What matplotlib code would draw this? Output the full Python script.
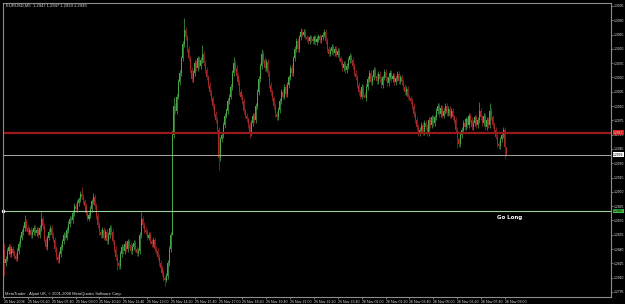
import matplotlib
matplotlib.use("Agg")
import matplotlib.pyplot as plt
import matplotlib.transforms as mtransforms
from matplotlib import font_manager

# ---------------- data ----------------
title_text = "EURUSD,M5  1.2947 1.2947 1.2939 1.2939"
copyright_text = "MetaTrader - Alpari UK, \u00a9 2001-2008 MetaQuotes Software Corp."
base_price = 1.2800
pip = 0.0001
first_open_pips = 40

# closes in pips above 1.2800, one per 5-minute bar
close_pips = [
    25, 30,
    38, 42, 35, 40, 36,
    33, 30, 38,
    45, 52, 58, 62, 68,
    62, 58, 60, 55, 58, 62, 57, 60, 55, 62, 72, 64,
    50, 42,
    52, 58, 62, 55, 50,
    40, 32, 28, 35,
    42, 48, 55, 52, 60, 66, 72, 70, 78,
    85, 82, 88, 92,
    98, 95, 90, 85,
    78, 72, 76, 82,
    90, 95,
    85, 75, 65, 58, 55,
    60, 52, 58, 48, 55, 62, 58,
    48, 40, 32, 25, 22,
    35, 42, 38, 45, 40, 48, 44, 38, 42, 46, 40, 36, 38,
    55, 72,
    65, 60, 58, 52, 55, 48, 45, 50, 40, 38,
    32, 25, 20, 15, 10, 8, 12,
    25, 40, 55,
    160,
    190, 185, 200, 215, 225, 240, 255,
    270,
    262, 250, 240, 228, 218,
    225, 235, 230, 240, 232, 238,
    245,
    235, 228, 220, 212, 205, 198, 190, 182, 175, 165,
    135, 155,
    160, 170, 180, 185, 195, 200, 210,
    225, 235,
    230, 222, 215, 205, 200, 195, 185, 180, 176,
    170, 162,
    172, 180, 175,
    190, 205, 218, 232, 245,
    238, 230, 236,
    225, 212, 205, 198,
    190, 182, 178, 186,
    195, 205, 200, 210, 203, 212,
    220, 230, 225, 240, 250, 258, 250, 262, 268,
    265, 268, 262, 260, 258, 262, 260,
    258, 262, 257, 260, 263, 259, 262, 265,
    268,
    258, 250, 245, 248,
    252, 246, 250, 244, 248,
    240, 236, 230, 234, 228, 232, 238,
    242, 238,
    232, 225, 220, 212, 205, 200, 210, 202, 198,
    210, 218, 225, 215, 220, 228, 222, 216, 224, 218, 212, 220,
    226, 219, 214, 220, 225, 218, 222, 215, 219, 224, 216, 220,
    215, 210, 205, 208, 200, 198,
    195, 190, 182, 175, 168, 162,
    165, 170, 163, 172, 168, 162, 175, 170, 178, 172,
    178, 185, 190, 182, 188, 180, 185, 190, 183, 187, 180, 185, 178, 175,
    165, 155, 150, 160,
    165, 172, 168, 176, 170, 180, 175, 168, 172, 178, 170, 175,
    185,
    178, 172, 180, 168, 175, 170,
    185,
    178, 170, 165, 158, 150, 148, 155,
    160, 165,
    147, 139,
]

# notable bar extremes (pips above 1.2800)
extreme_high = {0: 46, 14: 76, 25: 79, 52: 105, 60: 99, 92: 79, 113: 165,
                114: 200, 121: 282, 133: 254, 154: 241, 173: 250, 199: 272,
                215: 271, 232: 246, 319: 194, 326: 193, 337: 147}
extreme_low = {0: 12, 28: 40, 36: 25, 76: 18, 108: 1, 113: 55, 144: 123,
               165: 157, 242: 200, 304: 146, 336: 135, 337: 139}
normal_wick_pips = 3

ytick_labels = ["1.3095", "1.3080", "1.3065", "1.3050", "1.3035", "1.3020",
                "1.3005", "1.2990", "1.2975", "1.2960", "1.2945", "1.2930",
                "1.2915", "1.2900", "1.2885", "1.2870", "1.2855", "1.2840",
                "1.2825", "1.2810", "1.2795"]
time_labels = ["25 Nov 2008", "25 Nov 06:20", "25 Nov 07:40", "25 Nov 09:00",
               "25 Nov 10:20", "25 Nov 11:40", "25 Nov 13:00", "25 Nov 14:20",
               "25 Nov 15:40", "25 Nov 17:00", "25 Nov 18:20", "25 Nov 19:40",
               "25 Nov 21:00", "25 Nov 22:20", "25 Nov 23:40", "26 Nov 01:00",
               "26 Nov 02:20", "26 Nov 03:40", "26 Nov 05:00", "26 Nov 06:20",
               "26 Nov 07:40", "26 Nov 09:00"]
bars_per_time_label = 16

red_level = 1.2962
bid_level = 1.2939
green_level = 1.2880
signal_text = "Go Long"
signal_bar = 339
signal_price = 1.28730

# ---------------- font ----------------
available = {f.name for f in font_manager.fontManager.ttflist}
if "Liberation Sans Narrow" in available:
    small_family = ["Liberation Sans Narrow", "DejaVu Sans"]
elif "Liberation Sans" in available:
    small_family = ["Liberation Sans", "DejaVu Sans"]
else:
    small_family = ["DejaVu Sans"]
plt.rcParams["font.family"] = ["DejaVu Sans"]

# ---------------- build OHLC ----------------
opens, highs, lows, closes = [], [], [], []
prev = first_open_pips
for i, c in enumerate(close_pips):
    o = prev
    h = extreme_high.get(i, max(o, c) + normal_wick_pips)
    l = extreme_low.get(i, min(o, c) - normal_wick_pips)
    opens.append(base_price + o * pip)
    closes.append(base_price + c * pip)
    highs.append(base_price + h * pip)
    lows.append(base_price + l * pip)
    prev = c

# ---------------- figure ----------------
W, H = 625, 304
fig = plt.figure(figsize=(W / 100, H / 100), dpi=100, facecolor="black")
ax = fig.add_axes([3 / W, 7 / H, 608 / W, 294 / H])
ax.set_facecolor("black")
ax.set_xlim(-0.7, 407.3)
ax.set_ylim(1.27897, 1.30981)

up_col = "#48a848"
dn_col = "#a82828"
for i in range(len(closes)):
    o, c, h, l = opens[i], closes[i], highs[i], lows[i]
    col = up_col if c >= o else dn_col
    ax.vlines(i, l, h, color=col, lw=0.5)
    body = abs(c - o)
    if body < 0.2 * pip:
        body = 0.2 * pip
    ax.bar(i, body, bottom=min(o, c), width=0.7, color=col, linewidth=0)

# level lines
ax.axhline(red_level, color="#9a1a1a", lw=1.6)
ax.axhline(bid_level, color="#a8a8a8", lw=0.7)
ax.axhline(green_level, color="#9ad09a", lw=0.8)
ax.plot([-0.4], [green_level], marker="s", ms=1.3, color="white", clip_on=False)

ax.text(signal_bar, signal_price, signal_text, color="white", fontsize=4.0,
        fontweight="bold", ha="center", va="center")

# axes styling
for s in ax.spines.values():
    s.set_color("#8c8c8c")
    s.set_linewidth(0.8)

ax.yaxis.tick_right()
ax.set_yticks([float(t) for t in ytick_labels])
ax.set_yticklabels(ytick_labels, family=small_family)
ax.tick_params(axis="y", colors="#8c8c8c", labelcolor="#e0e0e0", labelsize=2.4,
               length=1.2, width=0.6, pad=0.5, direction="out")

ax.set_xticks([k * bars_per_time_label for k in range(len(time_labels))])
ax.set_xticklabels(time_labels, ha="left", family=small_family)
ax.tick_params(axis="x", colors="#8c8c8c", labelcolor="#e0e0e0", labelsize=2.6,
               length=1.5, width=0.6, pad=0.6, direction="out")

# price boxes on the right scale
trans = mtransforms.blended_transform_factory(ax.transAxes, ax.transData)
box_kw = dict(transform=trans, fontsize=2.4, va="center", ha="left", family=small_family)
ax.text(1.0035, red_level, "1.2962", color="#ffc0c0",
        bbox=dict(facecolor="#d02020", edgecolor="none", pad=0.3), **box_kw)
ax.text(1.0035, bid_level, "1.2939", color="black",
        bbox=dict(facecolor="white", edgecolor="none", pad=0.3), **box_kw)
ax.text(1.0035, green_level, "1.2880", color="black",
        bbox=dict(facecolor="#40c040", edgecolor="none", pad=0.3), **box_kw)

fig.text(6 / W, 1 - 6 / H, title_text, fontsize=3.0, color="#e0e0e0", va="center",
         ha="left", family=small_family)
fig.text(5 / W, 1 - 293.5 / H, copyright_text, fontsize=2.9, color="#e0e0e0",
         va="center", ha="left", family=small_family)

fig.savefig("out.png", dpi=100, facecolor="black")
